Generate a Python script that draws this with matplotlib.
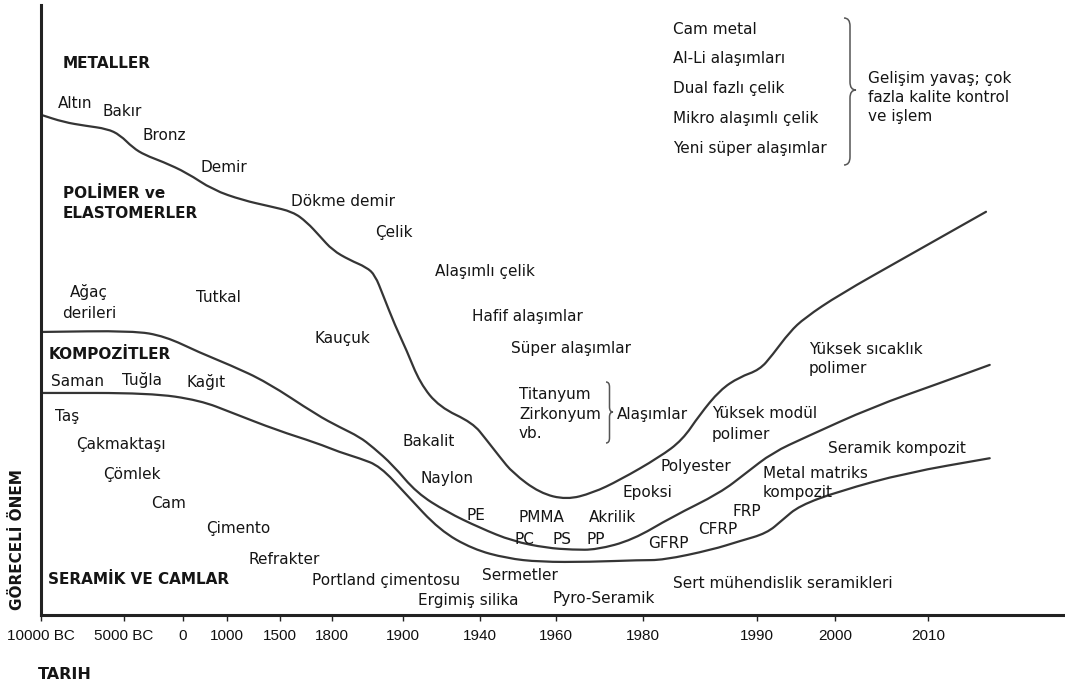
import numpy as np
import matplotlib
matplotlib.use("Agg")
import matplotlib.pyplot as plt
from matplotlib.path import Path
from matplotlib.patches import PathPatch
from matplotlib.transforms import Affine2D, IdentityTransform

W, H = 1065, 687

# time axis is not linear: labelled years and their spacing along the axis
TICK_YEARS = [-10000, -5000, 0, 1000, 1500, 1800, 1900, 1940, 1960, 1980, 1990, 2000, 2010]
TICK_LABELS = ["10000 BC", "5000 BC", "0", "1000", "1500", "1800", "1900",
               "1940", "1960", "1980", "1990", "2000", "2010"]
TICK_SPACING = [0, 83, 142, 186, 239, 291, 362, 439, 515, 602, 716, 795, 888]
X_END = 2024.7

# boundary curves (year, relative importance 0-100)
metal_years = [-10000, -8630, -7320, -6010, -5240, -4240, -3220, -1700, 90, 680,
               1150, 1405, 1575, 1656, 1731, 1801, 1825, 1849, 1861, 1872,
               1889, 1902, 1909, 1919, 1936.4, 1941.8, 1945.3, 1948.7, 1955.8, 1962.5,
               1968.5, 1974.7, 1981.5, 1983.5, 1985.0, 1986.8, 1988.5, 1990.4, 1992.0, 1994.2,
               1996.1, 2000.4, 2007.6, 2016.2]
metal_imp = [82.0, 80.8, 80.2, 79.7, 78.7, 76.6, 75.4, 74.3, 72.5, 69.7,
             68.0, 67.0, 66.1, 64.4, 62.1, 59.8, 58.2, 57.0, 55.7, 52.5,
             47.5, 43.4, 38.0, 34.1, 31.5, 28.7, 25.9, 23.3, 20.0, 18.9,
             20.0, 22.1, 25.9, 28.7, 32.8, 36.9, 39.0, 40.2, 42.6, 46.4,
             48.7, 52.5, 58.7, 66.1]

polymer_years = [-10000, -4240, -1525, 386, 1028, 1377, 1713, 1811, 1839, 1858,
                 1886, 1907.3, 1922.9, 1940.0, 1948.7, 1957.6, 1963.9, 1969.4, 1977.7, 1982.6,
                 1986.8, 1989.1, 1992.0, 1996.3, 2004.0, 2011.2, 2016.6]
polymer_imp = [46.4, 46.6, 45.7, 43.0, 41.0, 38.2, 32.8, 30.8, 29.2, 27.5,
               24.6, 20.0, 16.9, 14.3, 12.1, 11.0, 10.7, 10.7, 12.3, 16.1,
               20.0, 23.3, 26.6, 29.2, 34.1, 38.0, 41.0]

composite_years = [-10000, -2800, 386, 1057, 1472, 1713, 1811, 1839, 1868, 1902,
                   1919.2, 1936.4, 1947.1, 1955.8, 1967.8, 1979.3, 1981.8, 1986.1, 1988.5, 1991.3,
                   1993.3, 1995.4, 2000.4, 2007.6, 2016.6]
composite_imp = [36.4, 36.4, 35.2, 33.1, 30.3, 28.2, 26.7, 25.7, 24.4, 19.7,
                 13.9, 10.8, 9.3, 8.7, 8.7, 9.0, 9.0, 10.7, 12.1, 13.4,
                 15.6, 17.9, 20.3, 23.3, 25.7]

plt.rcParams["font.family"] = "DejaVu Sans"

scale_years = TICK_YEARS + [2025]
scale_pos = TICK_SPACING + [TICK_SPACING[-1] + 15 * 9.3]


def fwd(x):
    return np.interp(x, scale_years, scale_pos)


def inv(p):
    return np.interp(p, scale_pos, scale_years)


fig = plt.figure(figsize=(W / 100, H / 100), dpi=100)
ax = fig.add_axes([41 / W, (H - 615) / H, (W - 41) / W, 610 / H])
ax.set_xscale("function", functions=(fwd, inv))
ax.set_xlim(-10000, X_END)
ax.set_ylim(0, 100)


def smooth_curve(xs, ys):
    # map through the axes scales, then round the corners with quadratic beziers
    p = ax.transData.transform(np.column_stack([xs, ys]))
    verts = [p[0], (p[0] + p[1]) / 2]
    codes = [Path.MOVETO, Path.LINETO]
    for i in range(1, len(p) - 1):
        verts += [p[i], (p[i] + p[i + 1]) / 2]
        codes += [Path.CURVE3, Path.CURVE3]
    verts.append(p[-1])
    codes.append(Path.LINETO)
    ax.add_patch(PathPatch(Path(verts, codes), transform=IdentityTransform(), fill=False,
                           edgecolor="#353535", lw=1.6, joinstyle="round", capstyle="round"))


smooth_curve(metal_years, metal_imp)
smooth_curve(polymer_years, polymer_imp)
smooth_curve(composite_years, composite_imp)

for side in ["top", "right"]:
    ax.spines[side].set_visible(False)
for side in ["left", "bottom"]:
    ax.spines[side].set_linewidth(2.2)
    ax.spines[side].set_color("#222222")

ax.set_xticks(TICK_YEARS)
ax.set_xticklabels(TICK_LABELS, fontfamily="Liberation Sans", fontsize=11, color="#111111")
ax.tick_params(axis="x", direction="out", length=4.3, width=1, color="#222222", pad=6)
ax.set_yticks([])
ax.set_facecolor("none")

# annotations in image pixel coordinates
PIX = Affine2D().scale(1 / W, -1 / H).translate(0, 1) + fig.transFigure


def label(s, x, y, size=11, weight="normal", ha="left"):
    fig.text(x / W, 1 - (y + 0.36 * size * 100 / 72) / H, s, ha=ha, va="baseline",
             fontsize=size, fontweight=weight, color="#151515")


def brace(x, y0, y1, h, r, ym=None):
    if ym is None:
        ym = (y0 + y1) / 2
    verts = [(x, y0), (x + h, y0), (x + h, y0 + r), (x + h, ym - r),
             (x + h, ym), (x + 2 * h, ym), (x + h, ym), (x + h, ym + r),
             (x + h, y1 - r), (x + h, y1), (x, y1)]
    codes = [Path.MOVETO, Path.CURVE3, Path.CURVE3, Path.LINETO,
             Path.CURVE3, Path.CURVE3, Path.CURVE3, Path.CURVE3,
             Path.LINETO, Path.CURVE3, Path.CURVE3]
    fig.patches.append(PathPatch(Path(verts, codes), transform=PIX, fill=False,
                                 edgecolor="#555555", lw=1.1))


normal_labels = [
    ("Altın", 58, 102), ("Bakır", 103, 110), ("Bronz", 143, 135), ("Demir", 200, 167),
    ("Dökme demir", 291, 200), ("Çelik", 375, 232), ("Alaşımlı çelik", 435, 271),
    ("Hafif alaşımlar", 472, 316), ("Süper alaşımlar", 511, 348),
    ("Titanyum", 519, 393), ("Zirkonyum", 519, 413), ("vb.", 519, 433),
    ("Alaşımlar", 617, 413), ("Tutkal", 196, 297), ("Kauçuk", 315, 338),
    ("Bakalit", 402, 440), ("Naylon", 420, 478), ("PE", 467, 515), ("PMMA", 518, 517),
    ("Akrilik", 589, 517), ("PC", 514, 538), ("PS", 552, 538), ("PP", 587, 538),
    ("Epoksi", 622, 492), ("Polyester", 661, 466), ("GFRP", 648, 542),
    ("CFRP", 698, 529), ("FRP", 732, 511), ("Metal matriks", 763, 472),
    ("kompozit", 763, 492), ("Seramik kompozit", 828, 447),
    ("Yüksek modül", 712, 413), ("polimer", 712, 433),
    ("Yüksek sıcaklık", 809, 348), ("polimer", 809, 368),
    ("Saman", 51, 380), ("Tuğla", 122, 380), ("Kağıt", 186, 382),
    ("Taş", 55, 415), ("Çakmaktaşı", 76, 443), ("Çömlek", 103, 473), ("Cam", 151, 503),
    ("Çimento", 206, 527), ("Refrakter", 248, 558), ("Portland çimentosu", 312, 580),
    ("Sermetler", 482, 575), ("Ergimiş silika", 418, 600), ("Pyro-Seramik", 553, 598),
    ("Sert mühendislik seramikleri", 673, 582),
    ("Cam metal", 673, 29), ("Al-Li alaşımları", 673, 58), ("Dual fazlı çelik", 673, 87),
    ("Mikro alaşımlı çelik", 673, 117), ("Yeni süper alaşımlar", 673, 147),
    ("Gelişim yavaş; çok", 868, 77), ("fazla kalite kontrol", 868, 97), ("ve işlem", 868, 116),
]
for s, x, y in normal_labels:
    label(s, x, y)

label("Ağaç", 89, 292, ha="center")
label("derileri", 89, 312, ha="center")

bold_labels = [
    ("METALLER", 63, 62), ("POLİMER ve", 63, 192), ("ELASTOMERLER", 63, 212),
    ("KOMPOZİTLER", 49, 353), ("SERAMİK VE CAMLAR", 48, 578),
]
for s, x, y in bold_labels:
    label(s, x, y, weight="bold")

label("TARIH", 38, 673, size=11.5, weight="bold")
fig.text(18 / W, 1 - 540 / H, "GÖRECELİ ÖNEM", rotation=90, ha="center", va="center",
         fontsize=11, fontweight="bold", color="#151515")

brace(844, 18, 165, 6, 8, ym=90)
brace(606, 382, 443, 3.5, 5, ym=412)

fig.savefig("out.png", dpi=100, facecolor="white")
